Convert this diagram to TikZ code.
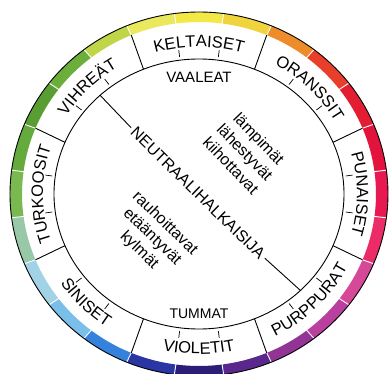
\documentclass[tikz,border=0pt]{standalone}
\usepackage{fontspec}
\setmainfont{Liberation Sans}
\usetikzlibrary{decorations.text}
\newcommand\labfont{\fontsize{16.5pt}{18pt}\selectfont}
\definecolor{bandA}{RGB}{234,232,92}
\definecolor{bandB}{RGB}{244,232,70}
\definecolor{bandC}{RGB}{240,212,62}
\definecolor{bandD}{RGB}{238,140,42}
\definecolor{bandE}{RGB}{232,62,42}
\definecolor{bandF}{RGB}{228,30,50}
\definecolor{bandG}{RGB}{226,20,62}
\definecolor{bandH}{RGB}{232,24,82}
\definecolor{bandI}{RGB}{236,44,104}
\definecolor{bandJ}{RGB}{214,72,152}
\definecolor{bandK}{RGB}{186,64,160}
\definecolor{bandL}{RGB}{146,52,150}
\definecolor{bandM}{RGB}{90,40,140}
\definecolor{bandN}{RGB}{42,30,120}
\definecolor{bandO}{RGB}{42,54,164}
\definecolor{bandP}{RGB}{52,130,220}
\definecolor{bandQ}{RGB}{122,190,234}
\definecolor{bandR}{RGB}{162,210,230}
\definecolor{bandS}{RGB}{152,200,168}
\definecolor{bandT}{RGB}{122,184,80}
\definecolor{bandU}{RGB}{100,170,60}
\definecolor{bandV}{RGB}{88,158,50}
\definecolor{bandW}{RGB}{108,174,58}
\definecolor{bandX}{RGB}{192,214,72}
\tikzset{
  toplab/.style={decorate, decoration={text along path, text align=center, text={|\labfont|#1}}},
  ringline/.style={line width=0.9pt, draw=black},
  innertext/.style={inner sep=1pt, text=black},
}
\begin{document}
\begin{tikzpicture}[x=1pt,y=1pt]
\useasboundingbox[fill=white] (-199,-179) rectangle (190,194);
% colour band
\foreach \a/\c in {105/bandA,90/bandB,75/bandC,60/bandD,45/bandE,30/bandF,15/bandG,0/bandH,-15/bandI,-30/bandJ,-45/bandK,-60/bandL,-75/bandM,-90/bandN,-105/bandO,-120/bandP,-135/bandQ,-150/bandR,-165/bandS,180/bandT,165/bandU,150/bandV,135/bandW,120/bandX}{
  \fill[fill=\c] ({\a-7.5}:189pt and 182pt) arc[start angle={\a-7.5}, end angle={\a+7.5}, x radius=189pt, y radius=182pt]
    -- ({\a+7.5}:177pt and 172pt) arc[start angle={\a+7.5}, end angle={\a-7.5}, x radius=177pt, y radius=172pt] -- cycle;
}
\foreach \k in {0,...,23}{
  \draw[draw=white, line width=0.9pt] ({7.5+15*\k}:176pt and 171pt) -- ({7.5+15*\k}:190pt and 183pt);
}
\draw[ringline] (0,0) ellipse [x radius=189pt, y radius=182pt];
% inner circle
\draw[ringline] (0,0) ellipse [x radius=145pt, y radius=135pt];
% sector dividers
\foreach \s in {22.5,67.5,...,337.5}{
  \draw[ringline] (\s:145pt and 135pt) -- (\s:177pt and 172pt);
}
% small ticks
\foreach \s in {0,45,...,315}{
  \foreach \d in {-7.5,7.5}{
    \draw[line width=0.7pt] ({\s+\d}:148pt and 138pt) -- ({\s+\d}:155pt and 145pt);
  }
}
% ring labels (tops outward)
\path[toplab=KELTAISET] (112:155pt and 147pt) arc[start angle=112, end angle=68, x radius=155pt, y radius=147pt];
\path[toplab=ORANSSIT] (67:156pt and 148pt) arc[start angle=67, end angle=23, x radius=156pt, y radius=148pt];
\path[toplab=PUNAISET] (22:158pt and 148pt) arc[start angle=22, end angle=-22, x radius=158pt, y radius=148pt];
\path[toplab=TURKOOSIT] (202:156pt and 148pt) arc[start angle=202, end angle=158, x radius=156pt, y radius=148pt];
\path[toplab=VIHREÄT] (157:156pt and 148pt) arc[start angle=157, end angle=113, x radius=156pt, y radius=148pt];
% ring labels (tops inward)
\path[toplab=PURPPURAT] (-67:167pt and 160pt) arc[start angle=-67, end angle=-23, x radius=167pt, y radius=160pt];
\path[toplab=VIOLETIT] (-112:167pt and 160pt) arc[start angle=-112, end angle=-68, x radius=167pt, y radius=160pt];
\path[toplab=SINISET] (-157:167pt and 160pt) arc[start angle=-157, end angle=-113, x radius=167pt, y radius=160pt];
% inner texts
\node[innertext, font=\fontsize{15pt}{16pt}\selectfont] (vaaleat) at (0,117) {VAALEAT};
\node[innertext, font=\fontsize{14pt}{15pt}\selectfont] (tummat) at (0,-120) {TUMMAT};
\node[innertext, inner sep=3pt, rotate=-44.3, font=\fontsize{16pt}{17pt}\selectfont] (nh) at (-1,1) {NEUTRAALIHALKAISIJA};
\coordinate (d1) at (133:145pt and 135pt);
\coordinate (d2) at (-45.6:145pt and 135pt);
\draw[ringline] (d1) -- (nh.west);
\draw[ringline] (nh.east) -- (d2);
\node[innertext, rotate=-46, align=center, font=\fontsize{16pt}{19.5pt}\selectfont] (warm) at (46,42) {lämpimät\\lähestyvät\\kiihottavat};
\node[innertext, rotate=-44, align=center, font=\fontsize{16pt}{18.5pt}\selectfont] (cool) at (-47,-43) {rauhoittavat\\etääntyvät\\kylmät};
\end{tikzpicture}
\end{document}
